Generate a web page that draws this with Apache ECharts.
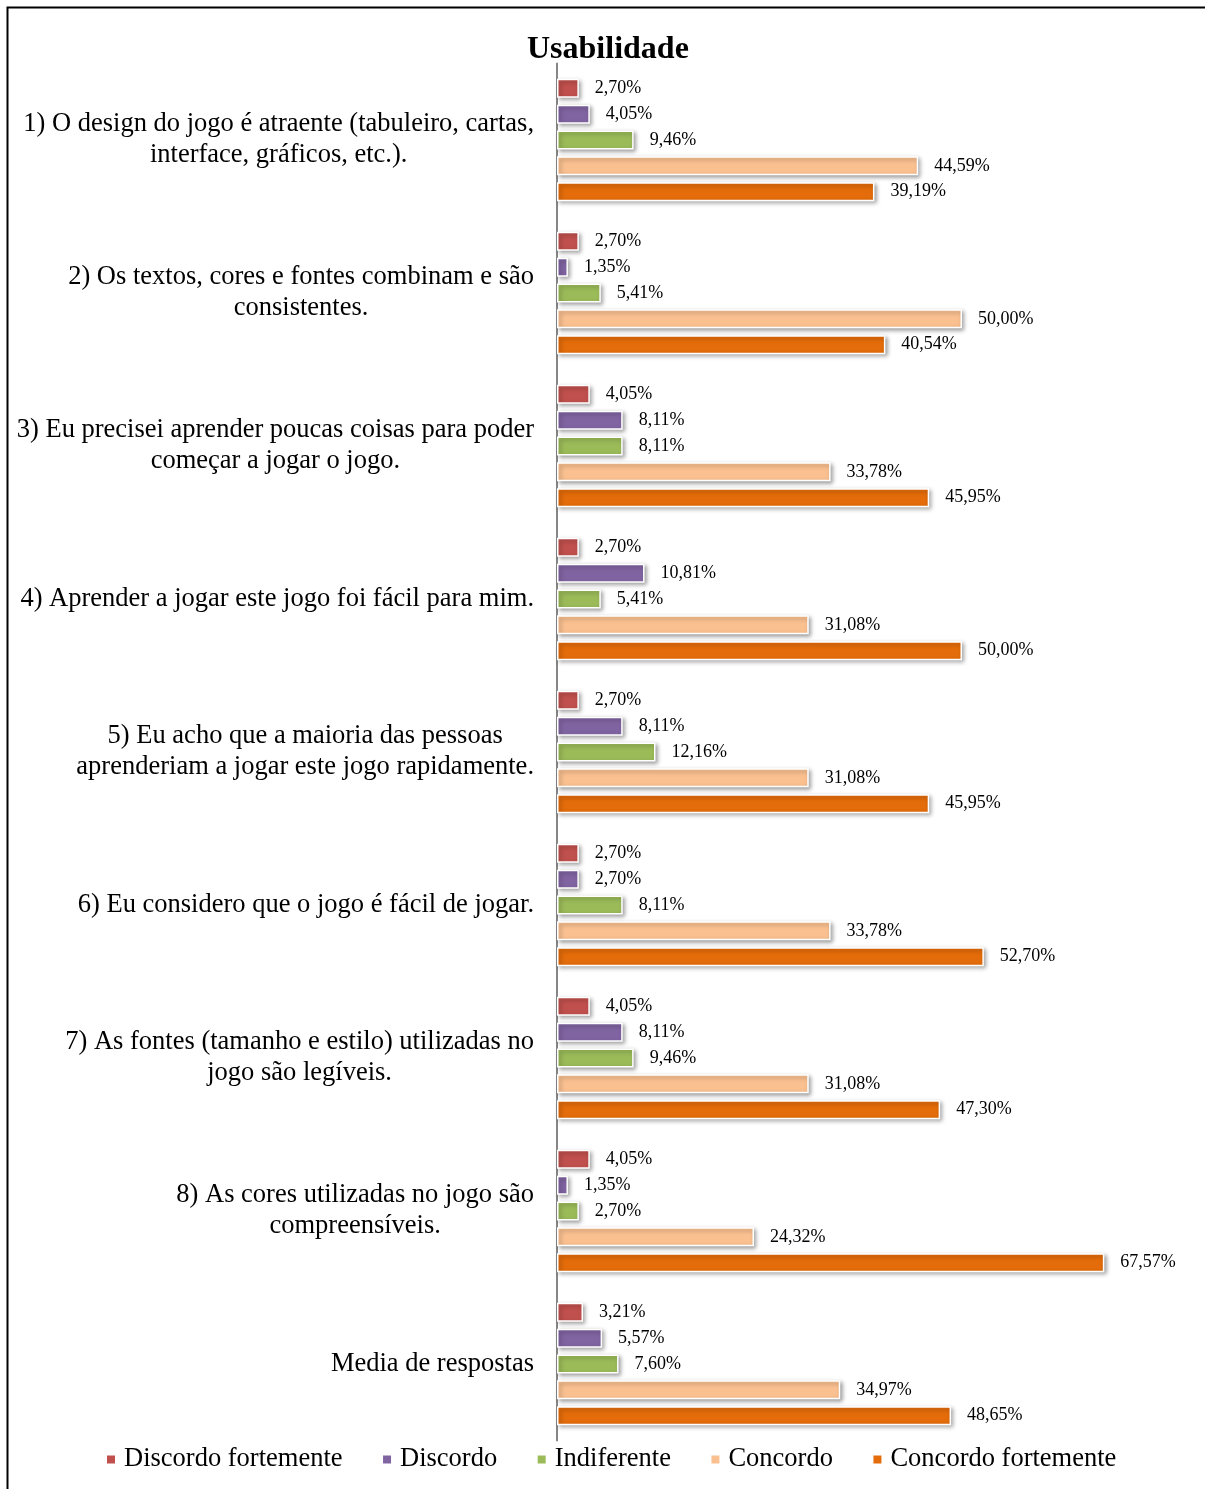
<!DOCTYPE html>
<html><head><meta charset="utf-8">
<script src="https://cdn.jsdelivr.net/npm/echarts@6/dist/echarts.min.js"></script>
<style>html,body{margin:0;padding:0;background:#fff}#c{width:1205px;height:1489px}</style>
</head><body><div id="c"></div>
<script>
var categories = [
  "1) O design do jogo é atraente (tabuleiro, cartas,\ninterface, gráficos, etc.).",
  "2) Os textos, cores e fontes combinam e são\nconsistentes.",
  "3) Eu precisei aprender poucas coisas para poder\ncomeçar a jogar o jogo.",
  "4) Aprender a jogar este jogo foi fácil para mim.",
  "5) Eu acho que a maioria das pessoas\naprenderiam a jogar este jogo rapidamente.",
  "6) Eu considero que o jogo é fácil de jogar.",
  "7) As fontes (tamanho e estilo) utilizadas no\njogo são legíveis.",
  "8) As cores utilizadas no jogo são\ncompreensíveis.",
  "Media de respostas"
];
var seriesNames = ["Discordo fortemente", "Discordo", "Indiferente", "Concordo", "Concordo fortemente"];
var discordoFortemente = [2.70, 2.70, 4.05, 2.70, 2.70, 2.70, 4.05, 4.05, 3.21];
var discordo = [4.05, 1.35, 8.11, 10.81, 8.11, 2.70, 8.11, 1.35, 5.57];
var indiferente = [9.46, 5.41, 8.11, 5.41, 12.16, 8.11, 9.46, 2.70, 7.60];
var concordo = [44.59, 50.00, 33.78, 31.08, 31.08, 33.78, 31.08, 24.32, 34.97];
var concordoFortemente = [39.19, 40.54, 45.95, 50.00, 45.95, 52.70, 47.30, 67.57, 48.65];
var colors = ["#C0504D", "#8064A2", "#9BBB59", "#FAC090", "#E46C0A"];

var font = "'Liberation Serif','Times New Roman',serif";
var allData = [discordoFortemente, discordo, indiferente, concordo, concordoFortemente];

var series = allData.map(function (d, i) {
  return {
    name: seriesNames[i],
    type: 'bar',
    data: d,
    barWidth: 19,
    barGap: '36%',
    itemStyle: {
      color: colors[i],
      borderColor: '#fff',
      borderWidth: 1.5,
      shadowBlur: 4,
      shadowOffsetX: 2,
      shadowOffsetY: 2,
      shadowColor: 'rgba(0,0,0,0.35)'
    },
    label: {
      show: true,
      position: 'right',
      distance: 16,
      color: '#000',
      fontFamily: font,
      fontSize: 18,
      formatter: function (p) { return p.value.toFixed(2).replace('.', ',') + '%'; }
    },
    emphasis: { disabled: true }
  };
});

var chart = echarts.init(document.getElementById('c'));
chart.setOption({
  animation: false,
  backgroundColor: '#fff',
  color: colors,
  graphic: [{
    type: 'rect',
    shape: { x: 7.5, y: 7.5, width: 1210, height: 1500 },
    style: { fill: 'none', stroke: '#000', lineWidth: 2 },
    z: 100
  }],
  title: {
    text: 'Usabilidade',
    left: 522,
    top: 29,
    textStyle: { fontFamily: font, fontSize: 32, fontWeight: 'bold', color: '#000' }
  },
  legend: {
    bottom: 11,
    left: 100,
    itemWidth: 10,
    itemHeight: 10,
    itemGap: 38.5,
    icon: 'rect',
    textStyle: { fontFamily: font, fontSize: 26.5, color: '#000', padding: [0, 0, 0, 3] },
    data: seriesNames
  },
  grid: { left: 557, top: 63.5, width: 649.6, height: 1377, containLabel: false },
  xAxis: {
    type: 'value', min: 0, max: 80, show: false
  },
  yAxis: {
    type: 'category',
    inverse: true,
    data: categories,
    axisLine: { show: true, lineStyle: { color: '#868686', width: 2 } },
    axisTick: { show: false },
    splitLine: { show: false },
    axisLabel: {
      margin: 23,
      fontFamily: font,
      fontSize: 26.5,
      color: '#000',
      lineHeight: 31,
      formatter: function (v) {
        return v.split('\n').map(function (l) { return '{c|' + l + '}'; }).join('\n');
      },
      rich: {
        c: { align: 'center', fontFamily: font, fontSize: 26.5, lineHeight: 31, color: '#000' }
      }
    }
  },
  series: series
});
</script>
</body></html>
